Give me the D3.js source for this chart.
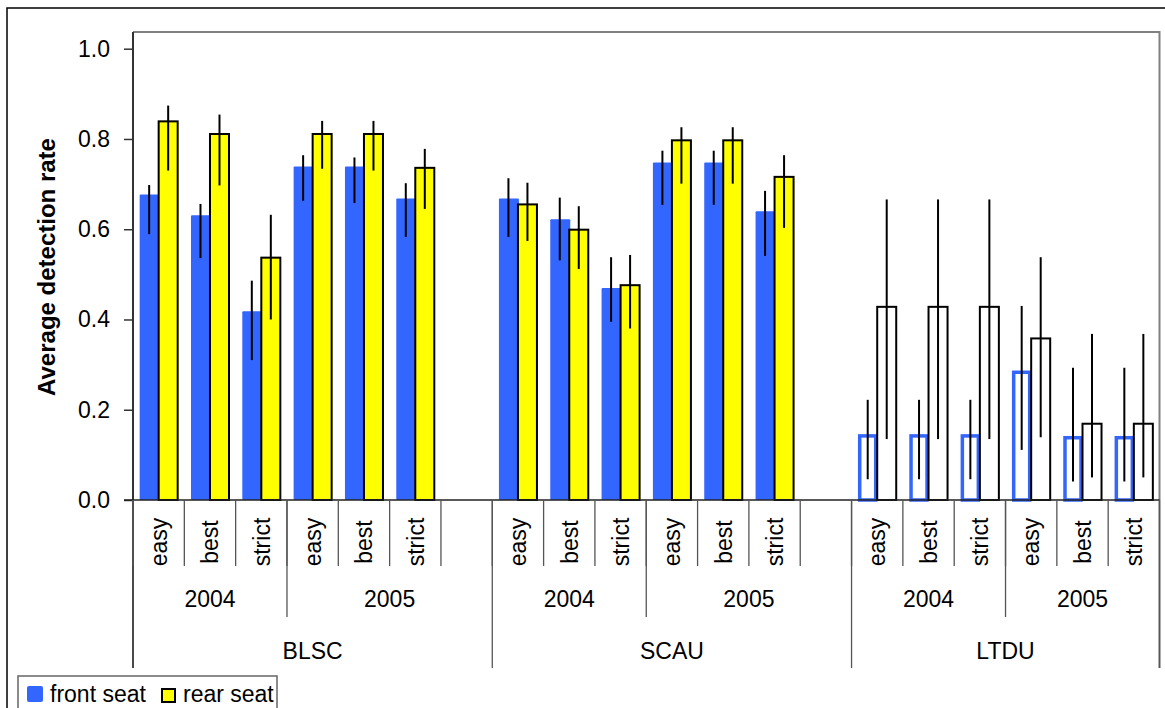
<!DOCTYPE html>
<html>
<head>
<meta charset="utf-8">
<script src="https://cdn.jsdelivr.net/npm/d3@7"></script>
<style>
  body { margin: 0; background: #fff; }
  text { font-family: Arial, "Liberation Sans", sans-serif; fill: #000; }
</style>
</head>
<body>
<script>
// categories
const species = ["BLSC", "SCAU", "LTDU"];
const years = ["2004", "2005"];
const criteria = ["easy", "best", "strict"];
const seriesNames = ["front seat", "rear seat"];

// values in order species > year > criterion
const frontRate = [0.677, 0.631, 0.418, 0.739, 0.739, 0.668,
                   0.668, 0.622, 0.470, 0.748, 0.748, 0.640,
                   0.142, 0.142, 0.142, 0.283, 0.138, 0.138];
const rearRate  = [0.839, 0.811, 0.537, 0.811, 0.811, 0.736,
                   0.655, 0.599, 0.476, 0.797, 0.797, 0.716,
                   0.428, 0.428, 0.428, 0.358, 0.169, 0.169];
// error bar ends
const frontLow  = [0.589, 0.536, 0.310, 0.663, 0.658, 0.583,
                   0.583, 0.531, 0.395, 0.654, 0.654, 0.541,
                   0.046, 0.046, 0.046, 0.111, 0.041, 0.041];
const frontHigh = [0.698, 0.656, 0.486, 0.764, 0.759, 0.702,
                   0.713, 0.670, 0.538, 0.774, 0.774, 0.685,
                   0.222, 0.222, 0.222, 0.430, 0.293, 0.293];
const rearLow   = [0.730, 0.697, 0.400, 0.734, 0.730, 0.645,
                   0.574, 0.512, 0.380, 0.701, 0.701, 0.603,
                   0.135, 0.135, 0.135, 0.139, 0.050, 0.050];
const rearHigh  = [0.874, 0.854, 0.632, 0.840, 0.840, 0.778,
                   0.703, 0.651, 0.543, 0.826, 0.826, 0.764,
                   0.666, 0.666, 0.666, 0.538, 0.368, 0.368];
const yTicks = [0, 0.2, 0.4, 0.6, 0.8, 1.0];
const hollowSpecies = ["LTDU"];

const width = 1165, height = 708;
const plotLeft = 133, plotRight = 1159.5, plotTop = 32, base = 500, plotBottom = 668;
const blue = "#3366ff", yellow = "#ffff00";
const fs = 23;

// build slots: each species gets 6 bars plus an empty slot (except the last)
const slots = [];
const leaves = [];
let k = 0;
species.forEach((sp, si) => {
    years.forEach((yr, yi) => {
        criteria.forEach(cr => {
            const id = sp + "|" + yr + "|" + cr;
            slots.push(id);
            leaves.push({id: id, sp: sp, yr: yr, cr: cr,
                f: frontRate[k], r: rearRate[k],
                fl: frontLow[k], fh: frontHigh[k], rl: rearLow[k], rh: rearHigh[k]});
            k++;
        });
        if (yi === years.length - 1 && si < species.length - 1) slots.push(sp + "|" + yr + "|");
    });
});

const svg = d3.select("body").append("svg")
    .attr("width", width)
    .attr("height", height);

// outer border
svg.append("rect")
    .attr("x", 7).attr("y", 8)
    .attr("width", width).attr("height", height)
    .attr("fill", "none").attr("stroke", "#000").attr("stroke-width", 1.5);

const x0 = d3.scaleBand().domain(slots).range([plotLeft, plotRight]).padding(0);
const x1 = d3.scaleBand().domain(seriesNames).range([0, x0.bandwidth()]).paddingInner(0).paddingOuter(0.35);
const y = d3.scaleLinear().domain([0, 1]).range([base, 48.7]);

// plot frame
svg.append("path")
    .attr("d", `M${plotLeft},${plotTop}H${plotRight}V${plotBottom}`)
    .attr("fill", "none").attr("stroke", "#808080").attr("stroke-width", 2);

// bars
const g = svg.append("g");
leaves.forEach(d => {
    const hollow = hollowSpecies.includes(d.sp);
    const xs = x0(d.id);
    const bw = x1.bandwidth();
    if (hollow) {
        g.append("rect")
            .attr("x", xs + x1("front seat") + 1.5).attr("y", y(d.f))
            .attr("width", bw - 3).attr("height", y(0) - y(d.f))
            .attr("fill", "none").attr("stroke", blue).attr("stroke-width", 3.5);
    } else {
        g.append("rect")
            .attr("x", xs + x1("front seat")).attr("y", y(d.f))
            .attr("width", bw + 1).attr("height", y(0) - y(d.f))
            .attr("rx", 1)
            .attr("fill", blue);
    }
    g.append("rect")
        .attr("x", xs + x1("rear seat")).attr("y", y(d.r))
        .attr("width", bw).attr("height", y(0) - y(d.r))
        .attr("fill", hollow ? "none" : yellow)
        .attr("stroke", "#000").attr("stroke-width", 2);
});
// error bars
leaves.forEach(d => {
    const xs = x0(d.id);
    const c = x1.bandwidth() / 2;
    [["front seat", d.fl, d.fh], ["rear seat", d.rl, d.rh]].forEach(e => {
        g.append("line")
            .attr("x1", xs + x1(e[0]) + c).attr("x2", xs + x1(e[0]) + c)
            .attr("y1", y(e[1])).attr("y2", y(e[2]))
            .attr("stroke", "#000").attr("stroke-width", 2);
    });
});

// y axis
const yAxis = svg.append("g")
    .attr("transform", `translate(${plotLeft},0)`)
    .call(d3.axisLeft(y).tickValues(yTicks).tickFormat(d3.format(".1f")).tickSize(9).tickPadding(14));
yAxis.select(".domain").remove();
yAxis.selectAll("line").attr("stroke", "#333").attr("stroke-width", 1.5);
yAxis.selectAll("text").attr("font-size", fs).attr("font-family", "Arial, 'Liberation Sans', sans-serif").attr("fill", "#000");
svg.append("line")
    .attr("x1", plotLeft).attr("x2", plotLeft).attr("y1", plotTop).attr("y2", plotBottom)
    .attr("stroke", "#333").attr("stroke-width", 2);
svg.append("line")
    .attr("x1", 124).attr("x2", plotRight).attr("y1", base).attr("y2", base)
    .attr("stroke", "#222").attr("stroke-width", 1.5);

svg.append("text")
    .attr("transform", "translate(55,267) rotate(-90)")
    .attr("text-anchor", "middle")
    .attr("font-size", 24).attr("font-weight", "bold")
    .text("Average detection rate");

// multi-level category axis
const cat = svg.append("g");
const tickLine = (xp, y2) => cat.append("line")
    .attr("x1", xp).attr("x2", xp).attr("y1", base).attr("y2", y2)
    .attr("stroke", "#555").attr("stroke-width", 1.3);

slots.forEach(s => tickLine(x0(s), 566));
leaves.forEach(d => {
    const cx = x0(d.id) + x0.bandwidth() / 2;
    cat.append("text")
        .attr("transform", `translate(${cx},542) rotate(-90)`)
        .attr("text-anchor", "middle").attr("dy", "0.36em")
        .attr("font-size", fs)
        .text(d.cr);
});
species.forEach((sp, si) => {
    const spSlots = slots.filter(s => s.startsWith(sp + "|"));
    const sx0 = x0(spSlots[0]);
    const sx1 = x0(spSlots[spSlots.length - 1]) + x0.bandwidth();
    tickLine(sx0, plotBottom);
    if (si === species.length - 1) tickLine(sx1, plotBottom);
    years.forEach((yr, yi) => {
        const ySlots = spSlots.filter(s => s.startsWith(sp + "|" + yr + "|"));
        const a = x0(ySlots[0]);
        const b = x0(ySlots[ySlots.length - 1]) + x0.bandwidth();
        if (yi > 0) tickLine(a, 617);
        cat.append("text")
            .attr("x", (a + b) / 2).attr("y", 607)
            .attr("text-anchor", "middle").attr("font-size", fs)
            .text(yr);
    });
    cat.append("text")
        .attr("x", (sx0 + sx1) / 2).attr("y", 659)
        .attr("text-anchor", "middle").attr("font-size", fs)
        .text(sp);
});

// legend
const lg = svg.append("g");
lg.append("rect")
    .attr("x", 18).attr("y", 676).attr("width", 259).attr("height", 60)
    .attr("fill", "#fff").attr("stroke", "#666").attr("stroke-width", 1.5);
lg.append("rect")
    .attr("x", 27).attr("y", 686).attr("width", 16).attr("height", 16).attr("rx", 2)
    .attr("fill", blue);
lg.append("text").attr("x", 50).attr("y", 702).attr("font-size", fs).text(seriesNames[0]);
lg.append("rect")
    .attr("x", 162).attr("y", 689).attr("width", 13).attr("height", 13)
    .attr("fill", yellow).attr("stroke", "#000").attr("stroke-width", 2);
lg.append("text").attr("x", 183).attr("y", 702).attr("font-size", fs).text(seriesNames[1]);
</script>
</body>
</html>
